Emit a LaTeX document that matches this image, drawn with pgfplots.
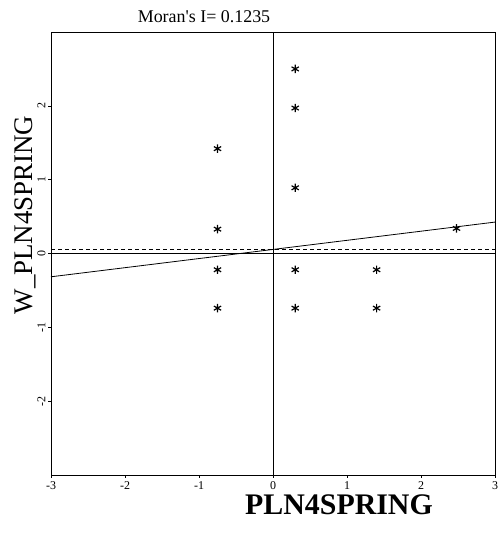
\documentclass[border=0pt]{standalone}
\usepackage{pgfplots}
\pgfplotsset{compat=1.18}
\usepackage{fontspec}
\setmainfont{Liberation Serif}
\begin{document}
\begin{tikzpicture}
\useasboundingbox (0,0) rectangle (500bp,533bp);
\begin{axis}[
  at={(51bp,58bp)}, anchor=south west,
  scale only axis,
  width=444bp, height=443bp,
  xmin=-3, xmax=3, ymin=-3, ymax=3,
  xtick={-3,-2,-1,0,1,2,3},
  ytick={-2,-1,0,1,2},
  xtick pos=bottom, ytick pos=left,
  tick align=outside,
  major tick length=3bp,
  tick style={black, line width=0.6pt},
  axis line style={line width=0.9pt},
  tick label style={font=\fontsize{12}{13}\selectfont},
  /pgf/number format/assume math mode=true,
  yticklabel style={rotate=90, anchor=south, yshift=-1bp},
  xticklabel style={yshift=0bp},
  clip=false,
]
% reference lines through the origin
\draw[line width=0.9pt] (axis cs:-3,0) -- (axis cs:3,0);
\draw[line width=0.9pt] (axis cs:0,-3) -- (axis cs:0,3);
% mean of the lagged variable
\addplot[black, line width=0.7pt, dash pattern=on 4bp off 3bp] coordinates {(-3,0.055) (3,0.055)};
% fitted slope (Moran's I)
\addplot[black, line width=0.8pt] coordinates {(-3,-0.3155) (3,0.4255)};
% observations
\addplot[only marks, mark=asterisk, mark size=4.2bp, mark options={line width=1.2pt, black}] coordinates {
  (-0.75,1.42) (-0.75,0.33) (-0.75,-0.22) (-0.75,-0.74)
  (0.3,2.5) (0.3,1.97) (0.3,0.89) (0.3,-0.22) (0.3,-0.74)
  (1.4,-0.22) (1.4,-0.74)
  (2.48,0.34)
};
\end{axis}
\node[font=\fontsize{18}{20}\selectfont] at (204bp,516bp) {Moran\textquotesingle s I= 0.1235};
\node[font=\fontsize{30}{32}\bfseries\selectfont] at (339bp,28bp) {PLN4SPRING};
\node[font=\fontsize{27}{29}\selectfont, rotate=90] at (25bp,318bp) {W\_PLN4SPRING};
\end{tikzpicture}
\end{document}
